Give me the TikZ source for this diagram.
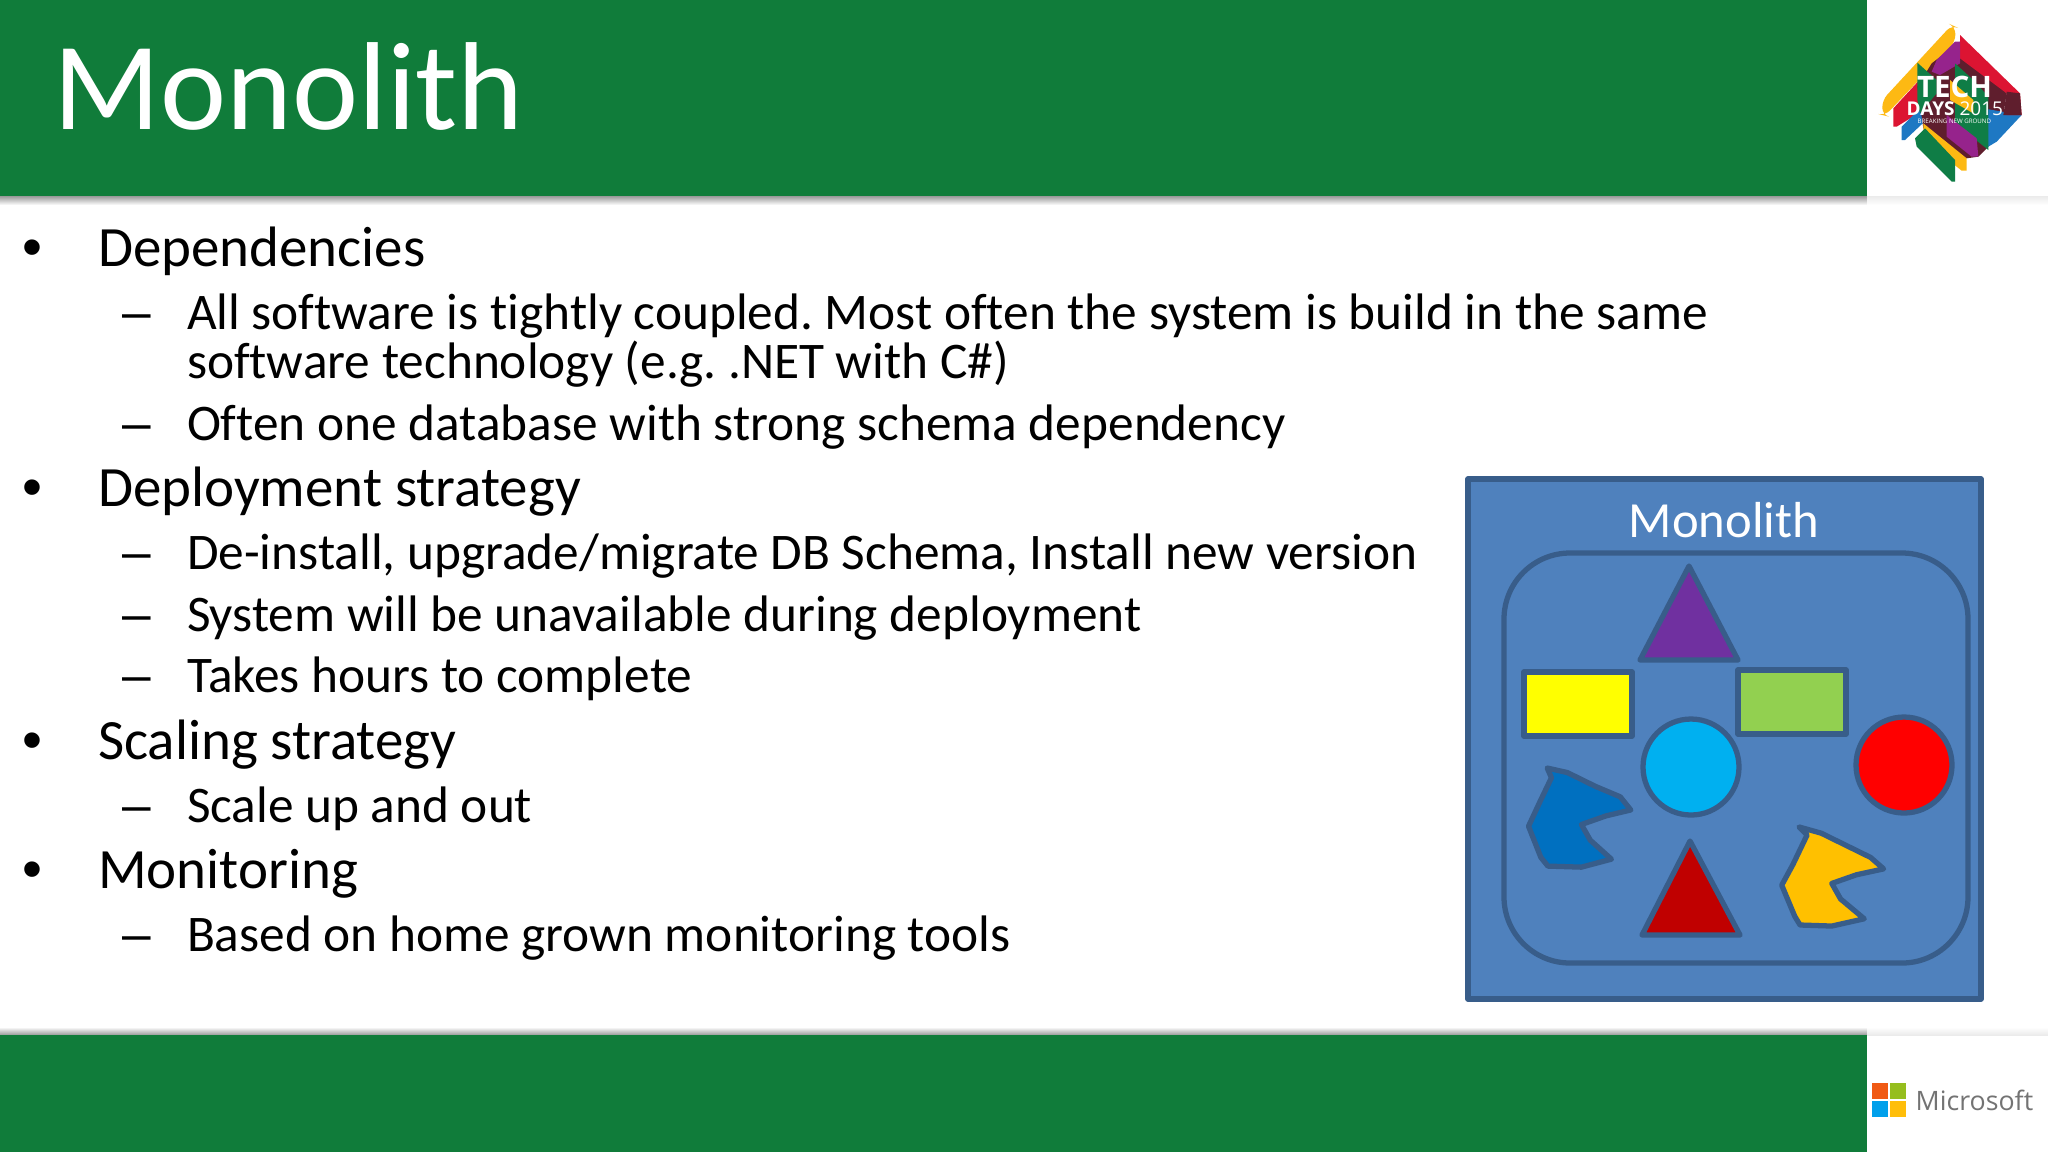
\documentclass[tikz,border=0pt]{standalone}
\usepackage{fontspec}
\setmainfont{Carlito}[Ligatures=NoCommon]
\newfontfamily\logofont{Open Sans}
\newfontfamily\markfont{Liberation Sans}
\definecolor{barGreen}{HTML}{107C3A}
\definecolor{boxBlue}{HTML}{4F81BD}
\definecolor{lineBlue}{HTML}{385D8A}
\definecolor{purpleTri}{HTML}{7030A0}
\definecolor{yellowRect}{HTML}{FFFF00}
\definecolor{limeRect}{HTML}{92D050}
\definecolor{skyDisc}{HTML}{00B0F0}
\definecolor{redDisc}{HTML}{FF0000}
\definecolor{darkTri}{HTML}{C00000}
\definecolor{blueBlob}{HTML}{0070C0}
\definecolor{goldBlob}{HTML}{FFC000}
\definecolor{logoGold}{HTML}{FDB913}
\definecolor{logoRed}{HTML}{DC1432}
\definecolor{logoBlue}{HTML}{1E78C3}
\definecolor{logoMaroon}{HTML}{5F1E2D}
\definecolor{logoPurple}{HTML}{96238C}
\definecolor{logoGreen}{HTML}{0F7D46}
\definecolor{msRed}{HTML}{F05A14}
\definecolor{msGreen}{HTML}{96BE1E}
\definecolor{msBlue}{HTML}{00A0EB}
\definecolor{msGold}{HTML}{FFBE0A}
\tikzset{
  lone/.style={anchor=base west,inner sep=0pt,outer sep=0pt,text=black,font=\fontsize{16.2}{19}\selectfont},
  ltwo/.style={anchor=base west,inner sep=0pt,outer sep=0pt,text=black,font=\fontsize{14.6}{17}\selectfont},
  bulletmark/.style={anchor=base west,inner sep=0pt,outer sep=0pt,text=black,font=\markfont\fontsize{16.2}{19}\selectfont},
  dashmark/.style={anchor=base west,inner sep=0pt,outer sep=0pt,text=black,font=\markfont\fontsize{14.6}{17}\selectfont},
  part/.style={draw=lineBlue,line width=1.5pt,line join=round},
  logotext/.style={inner sep=0pt,outer sep=0pt,anchor=base west,text=white}
}
\begin{document}
\frenchspacing
\begin{tikzpicture}[x=0.01cm,y=-0.01cm]
\useasboundingbox (0,0) rectangle (2048,1153);
\fill[white] (0,0) rectangle (2048,1153);
% bars
\shade[top color=black!40,bottom color=white] (0,196) rectangle (1867,205);
\shade[top color=black!8,bottom color=white] (1867,196) rectangle (2048,205);
\shade[top color=white,bottom color=black!40] (0,1027) rectangle (1867,1035);
\shade[top color=white,bottom color=black!8] (1867,1027) rectangle (2048,1035);
\fill[barGreen] (0,0) rectangle (1867,196);
\fill[barGreen] (0,1035) rectangle (1867,1152);
\node (title) at (53,129) [anchor=base west,inner sep=0pt,text=white,font=\fontsize{35.6}{40}\selectfont]{Monolith};

% text
\node (b1) at (22,266) [bulletmark]{•};
\node (dep) at (98,266) [lone]{Dependencies};
\node (d1) at (122,329) [dashmark]{–};
\node (dep1) at (187,329) [ltwo]{All software is tightly coupled. Most often the system is build in the same};
\node (dep1b) at (187,378) [ltwo]{software technology (e.g. .NET with C\#)};
\node (d2) at (122,440) [dashmark]{–};
\node (dep2) at (187,440) [ltwo]{Often one database with strong schema dependency};
\node (b2) at (22,506) [bulletmark]{•};
\node (dpl) at (98,506) [lone]{Deployment strategy};
\node (d3) at (122,569) [dashmark]{–};
\node (dpl1) at (187,569) [ltwo]{De-install, upgrade/migrate DB Schema, Install new version};
\node (d4) at (122,631) [dashmark]{–};
\node (dpl2) at (187,631) [ltwo]{System will be unavailable during deployment};
\node (d5) at (122,692) [dashmark]{–};
\node (dpl3) at (187,692) [ltwo]{Takes hours to complete};
\node (b3) at (22,759) [bulletmark]{•};
\node (scl) at (98,759) [lone]{Scaling strategy};
\node (d6) at (122,822) [dashmark]{–};
\node (scl1) at (187,822) [ltwo]{Scale up and out};
\node (b4) at (22,888) [bulletmark]{•};
\node (mon) at (98,888) [lone]{Monitoring};
\node (d7) at (122,951) [dashmark]{–};
\node (mon1) at (187,951) [ltwo]{Based on home grown monitoring tools};

% monolith box
\draw[part,fill=boxBlue] (1468,479) rectangle (1981,999);
\node (boxtitle) at (1724,537) [anchor=base,inner sep=0pt,text=white,font=\fontsize{14.4}{17}\selectfont]{Monolith};
\draw[part,rounded corners=0.66cm] (1504,553) rectangle (1968,963);
\draw[part,fill=purpleTri] (1689,566)--(1640,660)--(1738,660)--cycle;
\draw[part,fill=yellowRect] (1524,672) rectangle (1632,736);
\draw[part,fill=limeRect] (1738,670) rectangle (1846,734);
\draw[part,fill=skyDisc] (1691,767) circle (48);
\draw[part,fill=redDisc] (1904,765) circle (48);
\draw[part,fill=darkTri] (1690,841)--(1642,935)--(1740,935)--cycle;
\begin{scope}[shift={(1447.4,469.3)},x=0.003529cm,y=-0.003464cm]
\draw[part,fill=blueBlob] (283,862)--(340,875)--(420,915)--(490,945)--(520,983)--(450,1000)--(380,1025)--(405,1070)--(465,1125)--(380,1148)--(285,1145)--(265,1120)--(230,1030)--(262,960)--(295,890)--cycle;
\draw[part,fill=goldBlob] (997,1032)--(1060,1050)--(1130,1085)--(1200,1120)--(1237,1153)--(1160,1170)--(1090,1195)--(1115,1240)--(1182,1297)--(1090,1318)--(1000,1315)--(985,1290)--(948,1200)--(980,1140)--(1020,1055)--cycle;
\end{scope}

% tech days logo
\begin{scope}[shift={(1840,0)},x=0.01cm/3,y=-0.01cm/3]
\fill[logoGold,rounded corners=2pt] (127,345)--(127,300)--(335,75)--(346,80)--(346,125)--(135,347)--cycle;
\fill[logoRed] (160,380)--(160,325)--(275,200)--(300,300)--(170,380)--cycle;
\fill[logoBlue] (185,420)--(185,380)--(235,330)--(280,340)--(195,420)--cycle;
\fill[logoMaroon] (275,190)--(360,125)--(500,280)--(490,345)--(445,440)--(415,470)--(345,480)--(250,385)--(232,260)--cycle;
\fill[logoBlue] (400,320)--(545,345)--(470,425)--(445,440)--(400,400)--cycle;
\fill[logoRed] (360,105)--(540,280)--(545,345)--(500,345)--(500,280)--(360,175)--cycle;
\fill[logoMaroon] (500,275)--(540,280)--(545,345)--(490,345)--cycle;
\fill[logoPurple] (290,180)--(345,125)--(360,125)--(360,190)--(300,225)--(275,215)--cycle;
\fill[logoGreen] (345,190)--(400,240)--(445,290)--(445,450)--(420,430)--(345,370)--cycle;
\fill[logoGold] (330,240)--(400,300)--(400,340)--(330,300)--cycle;
\fill[logoGreen] (232,188)--(290,240)--(290,280)--(240,340)--(232,300)--cycle;
\fill[logoPurple] (320,345)--(410,415)--(415,470)--(395,470)--(320,410)--cycle;
\fill[logoGold] (250,370)--(380,475)--(380,512)--(365,512)--(250,420)--cycle;
\fill[logoGreen] (225,415)--(255,385)--(345,480)--(345,545)--(335,545)--(230,440)--cycle;
\node (tech) at (231,293) [logotext,font=\logofont\bfseries\fontsize{8.4}{9}\selectfont]{TECH};
\node (days) at (200,347) [logotext,font=\logofont\fontsize{5.4}{6}\selectfont]{\textbf{DAYS} 2015};
\node (ground) at (233,371) [logotext,font=\logofont\fontsize{1.75}{2}\selectfont]{BREAKING NEW GROUND};
\end{scope}

% microsoft logo
\fill[msRed] (1872,1083) rectangle (1888,1099);
\fill[msGreen] (1890,1083) rectangle (1906,1099);
\fill[msBlue] (1872,1101) rectangle (1888,1117);
\fill[msGold] (1890,1101) rectangle (1906,1117);
\node (ms) at (1915,1110) [anchor=base west,inner sep=0pt,text=black!55,font=\logofont\fontsize{7.6}{9}\selectfont]{Microsoft};
\end{tikzpicture}
\end{document}
